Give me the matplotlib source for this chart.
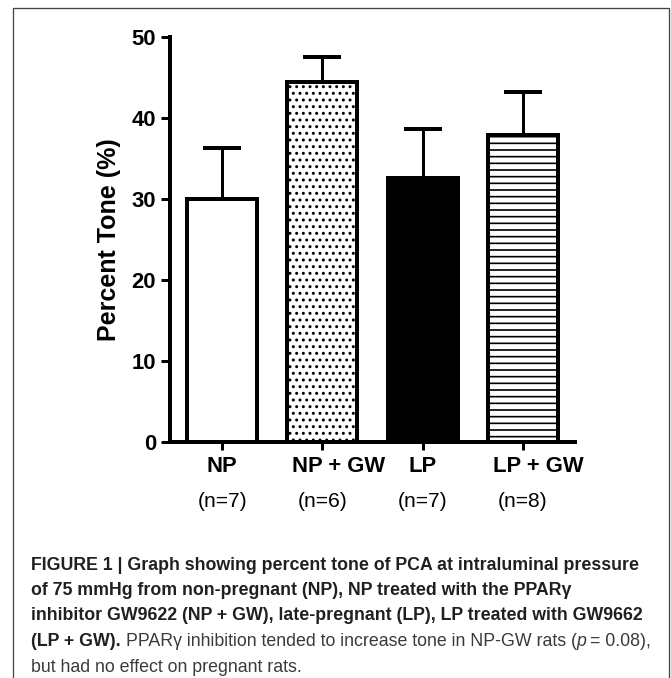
import numpy as np
import matplotlib.pyplot as plt
from matplotlib.patches import Rectangle
from matplotlib.transforms import ScaledTranslation

# Percent tone per group (mean + SEM)
groups = ['NP', 'NP + GW', 'LP', 'LP + GW']
n_labels = ['(n=7)', '(n=6)', '(n=7)', '(n=8)']
tone = [30.0, 44.4, 32.6, 37.9]
sem = [6.3, 3.1, 6.0, 5.3]
y_ticks = [0, 10, 20, 30, 40, 50]

fills = ['white', 'white', 'black', 'white']
hatches = ['', '..', '', '--']

caption = [
    [("FIGURE 1 | Graph showing percent tone of PCA at intraluminal pressure", 'bold', 'normal', 0)],
    [("of 75 mmHg from non-pregnant (NP), NP treated with the PPAR\u03b3", 'bold', 'normal', 0)],
    [("inhibitor GW9622 (NP + GW), late-pregnant (LP), LP treated with GW9662", 'bold', 'normal', 0)],
    [("(LP + GW).", 'bold', 'normal', 5),
     ("PPAR\u03b3 inhibition tended to increase tone in NP-GW rats (", 'normal', 'normal', 0),
     ("p", 'normal', 'italic', 4),
     ("= 0.08),", 'normal', 'normal', 0)],
    [("but had no effect on pregnant rats.", 'normal', 'normal', 0)],
]
caption_baselines = [569.5, 595, 620.5, 646, 671.5]

plt.rcParams['font.family'] = ['Liberation Sans', 'DejaVu Sans']
plt.rcParams['hatch.linewidth'] = 1.5

DPI = 80
PT = 72 / DPI  # points per pixel
W, H = 671, 678

fig = plt.figure(figsize=(W / DPI, H / DPI), dpi=DPI)
ax = fig.add_axes([170 / W, 1 - 442 / H, 405 / W, 405 / H])

x = np.arange(len(groups))
bars = ax.bar(x, tone, width=0.7, color=fills, edgecolor='black',
              linewidth=4 * PT, zorder=3)
for b, h in zip(bars, hatches):
    b.set_hatch(h)
ax.errorbar(x, tone, yerr=[np.zeros(len(sem)), sem], fmt='none', ecolor='black',
            elinewidth=3 * PT, capsize=18.5 * PT, capthick=4 * PT, zorder=2)

ax.set_xlim(-0.52, 3.52)
ax.set_ylim(0, 50)
for s in ['top', 'right']:
    ax.spines[s].set_visible(False)
for s in ['left', 'bottom']:
    ax.spines[s].set_linewidth(4 * PT)

ax.set_yticks(y_ticks, labels=[str(t) for t in y_ticks],
              fontweight='bold', fontsize=22 * PT)
ax.set_xticks(x, labels=groups, fontweight='bold', fontsize=22 * PT)
ax.tick_params(axis='y', length=9 * PT, width=3 * PT, pad=5 * PT)
ax.tick_params(axis='x', length=8 * PT, width=3 * PT, pad=6 * PT)

# the "+ GW" labels sit a bit right of their ticks in the original
label_dx = [0, 16, 0, 15]
for lab, dx in zip(ax.get_xticklabels(), label_dx):
    lab.set_transform(lab.get_transform() + ScaledTranslation(dx / DPI, 0, fig.dpi_scale_trans))

for xi, n in zip(x, n_labels):
    ax.text(xi, -0.146, n, transform=ax.get_xaxis_transform(),
            ha='center', va='center', fontsize=21 * PT)

ax.set_ylabel('Percent Tone (%)', fontsize=25 * PT, fontweight='bold')
ax.yaxis.set_label_coords(-0.122, 0.5)

# frame around the whole figure panel
frame = Rectangle((13 / W, -0.1), (669 - 13) / W, 1.1 - 8.5 / H,
                  transform=fig.transFigure, fill=False,
                  edgecolor='#444444', linewidth=1.3 * PT, clip_on=False)
fig.add_artist(frame)

# caption, written run by run so bold / italic pieces line up
renderer = fig.canvas.get_renderer()
cap_font = ['Liberation Sans Narrow', 'Liberation Sans', 'DejaVu Sans']
for runs, base in zip(caption, caption_baselines):
    x_px = 31
    for text, weight, style, gap in runs:
        t = fig.text(x_px / W, 1 - base / H, text, family=cap_font,
                     fontsize=17.7 * PT, fontweight=weight, fontstyle=style,
                     color='#231f20' if weight == 'bold' else '#3a3a3a',
                     va='baseline', ha='left')
        bb = t.get_window_extent(renderer)
        x_px = bb.x1 + gap

fig.savefig('out.png', dpi=DPI)
